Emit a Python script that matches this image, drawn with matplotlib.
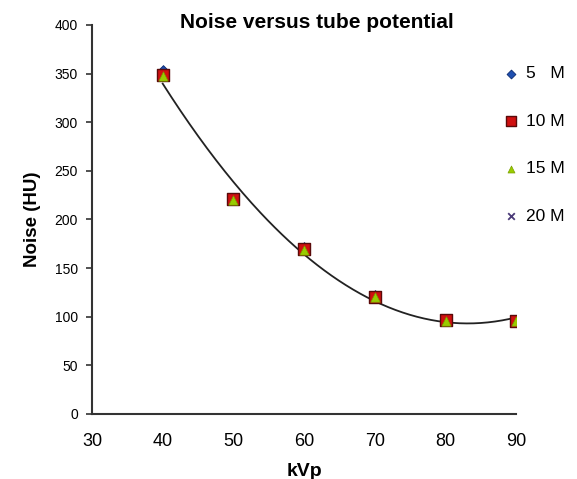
import numpy as np
import matplotlib
matplotlib.use('Agg')
import matplotlib.pyplot as plt

plt.rcParams['font.family'] = ['Liberation Sans', 'DejaVu Sans']

kvp = [40, 50, 60, 70, 80, 90]
noise_5m = [353, 221, 171, 121, 97, 96]
noise_10m = [348, 221, 170, 120, 97, 96]
noise_15m = [347, 220, 169, 120, 96, 96]
noise_20m = [348, 221, 170, 120, 96, 96]
series_labels = ['5   M', '10 M', '15 M', '20 M']

fig = plt.figure(figsize=(5.77, 4.79), dpi=100)
ax = fig.add_axes([0.1594, 0.1357, 0.7354, 0.8123])

# polynomial trendline (order 2) through the 10 M series
coef = np.polyfit(kvp, noise_10m, 2)
xs = np.linspace(40, 90, 200)
ax.plot(xs, np.polyval(coef, xs), color='#222222', lw=1.3, zorder=2)

ax.scatter(kvp, noise_5m, marker='D', s=36, color='#1f4fb0', edgecolors='#0a2a70',
           linewidths=0.6, label=series_labels[0], zorder=3)
ax.scatter(kvp, noise_10m, marker='s', s=85, color='#d01010', edgecolors='#5a0a0a',
           linewidths=1.0, label=series_labels[1], zorder=4)
ax.scatter(kvp, noise_15m, marker='^', s=45, color='#99cc00', edgecolors='#7aa000',
           linewidths=0.5, label=series_labels[2], zorder=5)
ax.scatter(kvp, noise_20m, marker='x', s=40, color='#4a3a78', linewidths=1.3,
           label=series_labels[3], zorder=3)

ax.set_xlim(30, 90)
ax.set_ylim(0, 400)
ax.set_xticks(range(30, 91, 10))
ax.set_yticks(range(0, 401, 50))
ax.spines['top'].set_visible(False)
ax.spines['right'].set_visible(False)
ax.spines['left'].set_color('#333333')
ax.spines['bottom'].set_color('#333333')
ax.spines['left'].set_linewidth(1.5)
ax.spines['bottom'].set_linewidth(1.5)
ax.tick_params(axis='y', labelsize=10, length=4, width=1.2, color='#333333', pad=6)
ax.tick_params(axis='x', labelsize=13, length=0, pad=14)

ax.set_title('Noise versus tube potential', fontsize=15, fontweight='bold', x=0.53, y=1.0, pad=-2)
ax.set_xlabel('kVp', fontsize=14, fontweight='bold', labelpad=9)
ax.set_ylabel('Noise (HU)', fontsize=13.5, fontweight='bold', labelpad=10)

fig.legend(loc='upper left', bbox_to_anchor=(0.855, 0.876), frameon=False,
           fontsize=12.5, labelspacing=1.86, handletextpad=0.3, handlelength=1.2,
           markerscale=0.75, borderaxespad=0)

fig.savefig('out.png', dpi=100)
